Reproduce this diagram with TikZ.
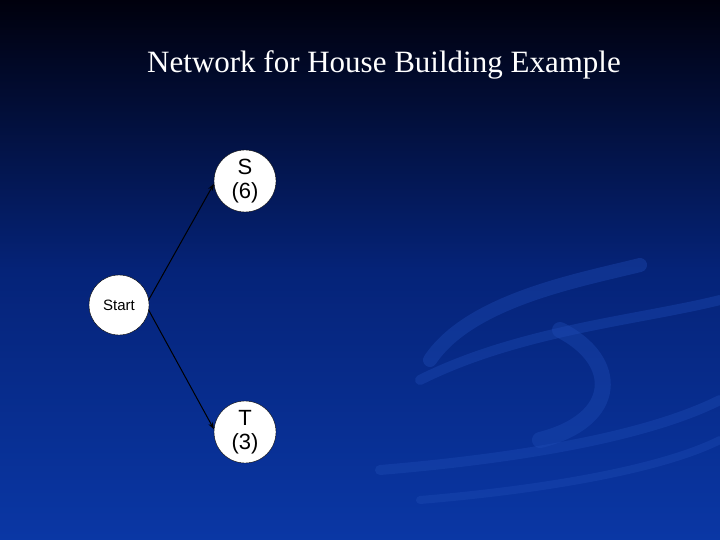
\documentclass[tikz,border=0pt]{standalone}
\usepackage{fontspec}
\setmainfont{Liberation Serif}
\newfontfamily\arialf{Liberation Sans}
\usetikzlibrary{arrows.meta}
\begin{document}
\begin{tikzpicture}[x=1pt,y=-1pt,
  nd/.style={circle,draw=black,fill=white,minimum size=62pt,inner sep=0pt,font=\arialf\fontsize{22}{24}\selectfont,align=center},
  ar/.style={-{Stealth[length=7pt,width=5pt]},black,line width=1pt}]
\shade[top color=black!95!blue, bottom color={rgb,255:red,10;green,55;blue,165}, middle color={rgb,255:red,5;green,35;blue,120}] (0,0) rectangle (720,540);
\useasboundingbox (0,0) rectangle (720,540);
\begin{scope}[draw={rgb,255:red,30;green,75;blue,180},line cap=round,opacity=0.4]
\draw[line width=14pt] (430,360) .. controls (470,300) and (580,280) .. (640,265);
\draw[line width=10pt] (420,380) .. controls (520,330) and (640,320) .. (720,300);
\draw[line width=16pt] (560,330) .. controls (620,360) and (620,420) .. (540,440);
\draw[line width=10pt] (380,470) .. controls (500,460) and (640,440) .. (720,400);
\draw[line width=8pt] (420,500) .. controls (540,490) and (660,470) .. (720,440);
\end{scope}
\node[text=white,font=\fontsize{31}{34}\selectfont] (title) at (384,65) {Network for House Building Example};
\node[nd] (S) at (245,181) {S\\(6)};
\node[nd,minimum size=60pt,font=\arialf\fontsize{15}{17}\selectfont] (start) at (119,305) {Start};
\node[nd] (T) at (245,432) {T\\(3)};
\draw[ar] (start.10) -- (S.185);
\draw[ar] (start.-10) -- (T.175);
\end{tikzpicture}
\end{document}
